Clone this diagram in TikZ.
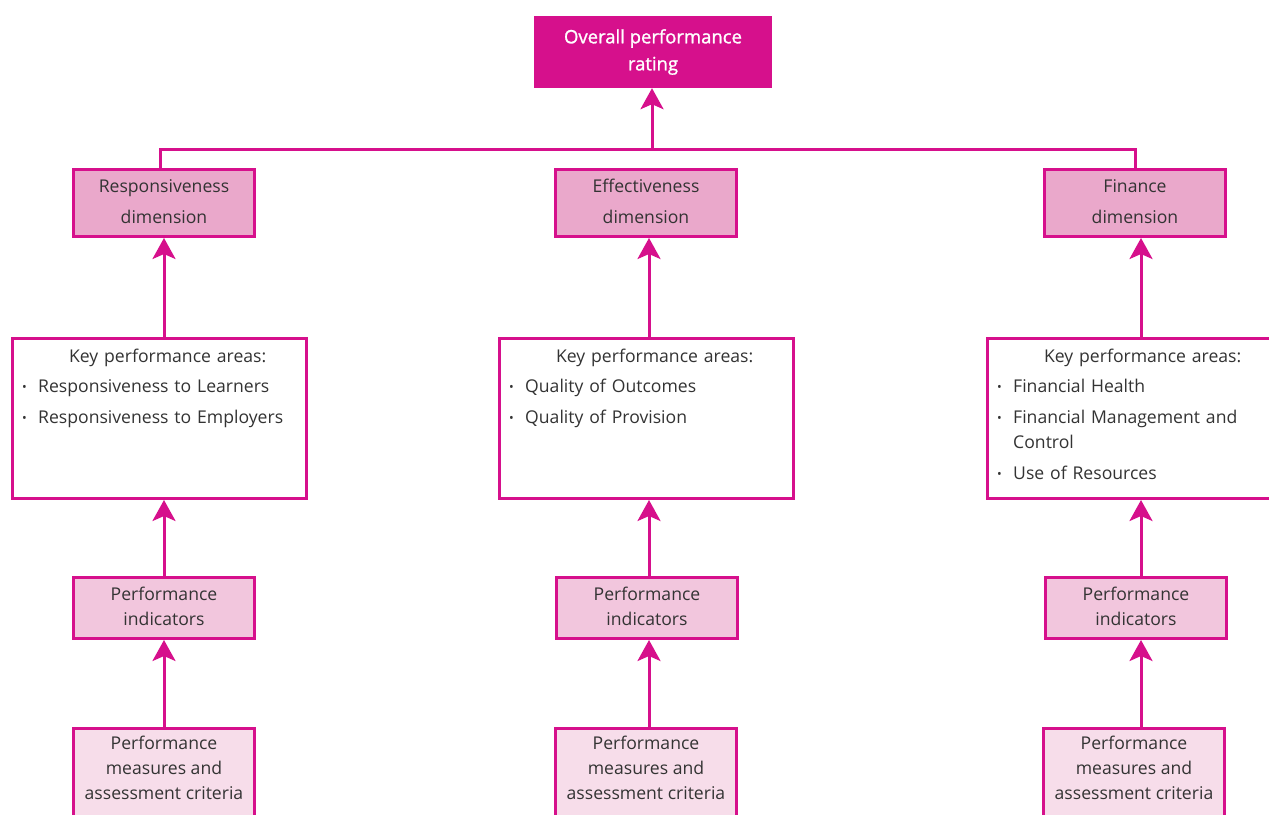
\documentclass[tikz,border=0pt]{standalone}
\usepackage{fontspec}
\setmainfont{Open Sans}
\newfontfamily\semibf[FakeBold=1.2]{Open Sans}
\usetikzlibrary{arrows.meta,calc}
\definecolor{mag}{RGB}{214,16,140}
\definecolor{dimfill}{RGB}{234,168,203}
\definecolor{pifill}{RGB}{242,198,221}
\definecolor{measfill}{RGB}{247,221,234}
\definecolor{txt}{RGB}{51,51,51}
\newcommand{\kitem}[1]{\hangindent=16pt\hangafter=1\noindent\makebox[16pt][l]{\raisebox{1.2pt}{\fontsize{12.5}{12}\selectfont\textbullet}}#1\par}
\newcommand{\vph}{\vphantom{Rpf}}
\begin{document}
\begin{tikzpicture}[x=1pt,y=-1pt,
  font=\fontsize{17.6}{25}\selectfont,
  box/.style={draw=mag, line width=3pt, text=txt, align=center, inner sep=0pt},
  dimbox/.style={box, fill=dimfill, minimum width=181pt, minimum height=67pt, font=\fontsize{17.6}{31}\selectfont},
  pibox/.style={box, fill=pifill, minimum width=181pt, minimum height=61pt},
  measbox/.style={box, fill=measfill, minimum width=181pt, minimum height=100pt},
  keybox/.style={box, fill=white, minimum width=294pt, minimum height=160pt},
  keytext/.style={text=txt, text width=275pt, inner sep=0pt, align=left},
  meastext/.style={text=txt, align=center, inner sep=0pt},
  topbox/.style={fill=mag, text=white, minimum width=238pt, minimum height=72pt, align=center, inner sep=0pt, font=\semibf\fontsize{18.5}{27}\selectfont},
  arr/.style={draw=mag, line width=3pt, -{Stealth[length=21pt,width=23pt,inset=5pt]}},
  conn/.style={draw=mag, line width=3pt}]
\useasboundingbox (0,0) rectangle (1269,814);
\clip (0,0) rectangle (1269,814);

% top
\node[topbox] (top) at (653,52) {\vph Overall performance\\rating\vph};

% dimensions
\node[dimbox] (d1) at (164,203) {\vph Responsiveness\\dimension\vph};
\node[dimbox] (d2) at (646,203) {\vph Effectiveness\\dimension\vph};
\node[dimbox] (d3) at (1135,203) {\vph Finance\\dimension\vph};

% key areas
\node[keybox] (k1) at (159.5,418.5) {};
\node[keybox] (k2) at (646.5,418.5) {};
\node[keybox] (k3) at (1134.5,418.5) {};

\node[keytext, anchor=north west] (k1t) at ($(k1.north west)+(11,12)$) {%
\makebox[\linewidth][c]{\hspace{16pt}Key performance areas:}\par\vspace{5pt}
\kitem{Responsiveness to Learners}\vspace{6pt}
\kitem{Responsiveness to Employers}};
\node[keytext, anchor=north west] (k2t) at ($(k2.north west)+(11,12)$) {%
\makebox[\linewidth][c]{\hspace{16pt}Key performance areas:}\par\vspace{5pt}
\kitem{Quality of Outcomes}\vspace{6pt}
\kitem{Quality of Provision}};
\node[keytext, anchor=north west] (k3t) at ($(k3.north west)+(11,12)$) {%
\makebox[\linewidth][c]{\hspace{16pt}Key performance areas:}\par\vspace{5pt}
\kitem{Financial Health}\vspace{6pt}
\kitem{Financial Management and\newline Control}\vspace{6pt}
\kitem{Use of Resources}};

% performance indicators
\node[pibox] (p1) at (164,608) {\vph Performance\\indicators\vph};
\node[pibox] (p2) at (647,608) {\vph Performance\\indicators\vph};
\node[pibox] (p3) at (1136,608) {\vph Performance\\indicators\vph};

% measures
\node[measbox, anchor=north] (m1) at (164,726.5) {};
\node[measbox, anchor=north] (m2) at (646,726.5) {};
\node[measbox, anchor=north] (m3) at (1134,726.5) {};
\node[meastext] (m1t) at (164,768) {Performance\\measures and\\assessment criteria};
\node[meastext] (m2t) at (646,768) {Performance\\measures and\\assessment criteria};
\node[meastext] (m3t) at (1134,768) {Performance\\measures and\\assessment criteria};

% connectors
\coordinate (hub) at (652,149);
\draw[conn] (d1.north -| 160,0) |- (hub) -| (d3.north);
\draw[arr] (hub) -- (top.south -| hub);

\draw[arr] (k1.north -| d1.south) -- (d1.south);
\draw[arr] (k2.north -| 649,0) -- (d2.south -| 649,0);
\draw[arr] (k3.north -| 1141,0) -- (d3.south -| 1141,0);

\draw[arr] (p1.north) -- (k1.south -| p1.north);
\draw[arr] (p2.north -| 649,0) -- (k2.south -| 649,0);
\draw[arr] (p3.north -| 1141,0) -- (k3.south -| 1141,0);

\draw[arr] (m1.north) -- (p1.south);
\draw[arr] (m2.north -| 649,0) -- (p2.south -| 649,0);
\draw[arr] (m3.north -| 1141,0) -- (p3.south -| 1141,0);
\end{tikzpicture}
\end{document}
